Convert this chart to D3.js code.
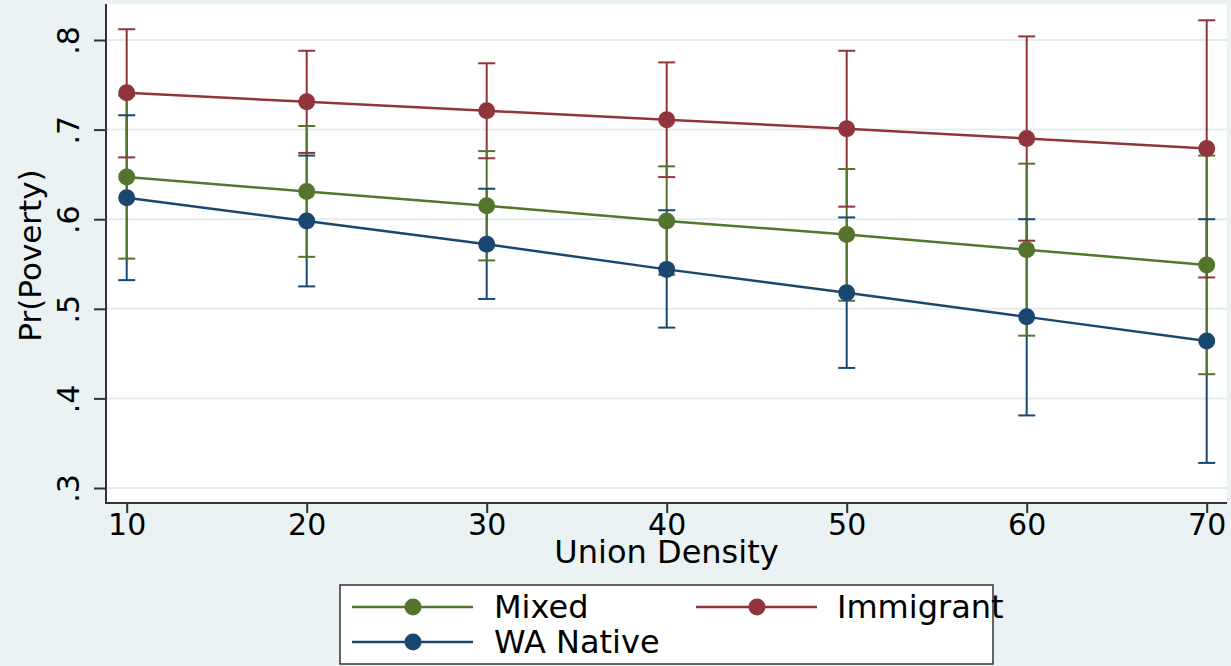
<!DOCTYPE html>
<html>
<head>
<meta charset="utf-8">
<script src="https://cdn.jsdelivr.net/npm/d3@7"></script>
<style>
  html, body { margin: 0; padding: 0; background: #EAF2F3; }
  svg { display: block; }
  text { font-family: "DejaVu Sans", sans-serif; fill: #000; }
</style>
</head>
<body>
<svg id="chart" width="1231" height="666"></svg>
<script>
// ---- data ----
const unionDensity = [10, 20, 30, 40, 50, 60, 70];

const mixed     = [0.647, 0.631, 0.615, 0.598, 0.583, 0.566, 0.549];
const mixedLo   = [0.556, 0.558, 0.554, 0.538, 0.509, 0.470, 0.427];
const mixedHi   = [0.738, 0.704, 0.676, 0.659, 0.656, 0.662, 0.671];

const immigrant   = [0.741, 0.731, 0.721, 0.711, 0.701, 0.690, 0.679];
const immigrantLo = [0.669, 0.674, 0.668, 0.647, 0.614, 0.576, 0.535];
const immigrantHi = [0.812, 0.788, 0.774, 0.775, 0.788, 0.804, 0.822];

const native   = [0.624, 0.598, 0.572, 0.544, 0.518, 0.491, 0.464];
const nativeLo = [0.532, 0.525, 0.511, 0.479, 0.434, 0.381, 0.328];
const nativeHi = [0.716, 0.671, 0.634, 0.610, 0.602, 0.600, 0.600];

const yTicks = [0.3, 0.4, 0.5, 0.6, 0.7, 0.8];
const yTickLabels = [".3", ".4", ".5", ".6", ".7", ".8"];
const xTicks = [10, 20, 30, 40, 50, 60, 70];

const seriesNames = ["Mixed", "Immigrant", "WA Native"];
const seriesColors = ["#55752F", "#90353B", "#1A476F"];

// ---- build ----
const series = [
  { name: seriesNames[0], color: seriesColors[0], v: mixed, lo: mixedLo, hi: mixedHi },
  { name: seriesNames[1], color: seriesColors[1], v: immigrant, lo: immigrantLo, hi: immigrantHi },
  { name: seriesNames[2], color: seriesColors[2], v: native, lo: nativeLo, hi: nativeHi }
];
const pts = s => unionDensity.map((u, i) => ({ u, v: s.v[i], lo: s.lo[i], hi: s.hi[i] }));

const svg = d3.select("#chart");
const W = 1231, H = 666;
svg.append("rect").attr("width", W).attr("height", H).attr("fill", "#EAF2F3");

const x = d3.scaleLinear().domain([10, 70]).range([126.7, 1206.7]);
const y = d3.scaleLinear().domain([0.3, 0.8]).range([488, 40]);
const plotL = 106, plotR = 1227, plotT = 4, plotB = 503;

// plot region
svg.append("rect").attr("x", plotL).attr("y", plotT)
  .attr("width", plotR - plotL).attr("height", plotB - plotT).attr("fill", "#fff");

// gridlines
svg.append("g").selectAll("line").data(yTicks).join("line")
  .attr("x1", plotL).attr("x2", plotR)
  .attr("y1", d => y(d)).attr("y2", d => y(d))
  .attr("stroke", "#E4EDF0").attr("stroke-width", 2);

// y axis
const yAxis = svg.append("g").attr("transform", `translate(${plotL},0)`)
  .call(d3.axisLeft(y).tickValues(yTicks).tickSize(12)
    .tickFormat((d, i) => yTickLabels[i]));
yAxis.select(".domain").remove();
yAxis.selectAll(".tick line").attr("stroke", "#333").attr("stroke-width", 2);
yAxis.selectAll(".tick text")
  .attr("x", 0).attr("dy", 0).attr("y", 0)
  .attr("transform", "translate(-27,0) rotate(-90)")
  .attr("text-anchor", "middle")
  .style("font-size", "30px").style("font-family", "DejaVu Sans");

// x axis
const xAxis = svg.append("g").attr("transform", `translate(0,${plotB})`)
  .call(d3.axisBottom(x).tickValues(xTicks).tickSize(10).tickFormat(d3.format("d")));
xAxis.select(".domain").remove();
xAxis.selectAll(".tick line").attr("stroke", "#333").attr("stroke-width", 2);
xAxis.selectAll(".tick text")
  .attr("y", 32).attr("dy", 0)
  .style("font-size", "30px").style("font-family", "DejaVu Sans");

// axis lines
svg.append("line").attr("x1", plotL).attr("x2", plotL).attr("y1", plotT).attr("y2", plotB + 1)
  .attr("stroke", "#333").attr("stroke-width", 2);
svg.append("line").attr("x1", plotL - 1).attr("x2", plotR).attr("y1", plotB).attr("y2", plotB)
  .attr("stroke", "#333").attr("stroke-width", 2);

// axis titles
svg.append("text").attr("transform", `translate(41,${(plotT + plotB) / 2 + 2}) rotate(-90)`)
  .attr("text-anchor", "middle").style("font-size", "31px").text("Pr(Poverty)");
svg.append("text").attr("x", (plotL + plotR) / 2).attr("y", 563)
  .attr("text-anchor", "middle").style("font-size", "32px").text("Union Density");

// CI spikes: native, immigrant, then mixed on top
const spikeOrder = [series[2], series[1], series[0]];
const gSpikes = svg.append("g");
spikeOrder.forEach(s => {
  gSpikes.append("g").selectAll("line").data(pts(s)).join("line")
    .attr("x1", d => x(d.u)).attr("x2", d => x(d.u))
    .attr("y1", d => y(d.lo)).attr("y2", d => y(d.hi))
    .attr("stroke", s.color).attr("stroke-width", 2);
});
const capW = 8.5;
spikeOrder.forEach(s => {
  const g = gSpikes.append("g");
  ["lo", "hi"].forEach(k => {
    g.append("g").selectAll("line").data(pts(s)).join("line")
      .attr("x1", d => x(d.u) - capW).attr("x2", d => x(d.u) + capW)
      .attr("y1", d => y(d[k])).attr("y2", d => y(d[k]))
      .attr("stroke", s.color).attr("stroke-width", 2);
  });
});

// lines and markers
const line = d3.line().x(d => x(d.u)).y(d => y(d.v));
series.forEach(s => {
  svg.append("path").datum(pts(s)).attr("d", line)
    .attr("fill", "none").attr("stroke", s.color).attr("stroke-width", 2.5);
});
series.forEach(s => {
  svg.append("g").selectAll("circle").data(pts(s)).join("circle")
    .attr("cx", d => x(d.u)).attr("cy", d => y(d.v)).attr("r", 8.5)
    .attr("fill", s.color);
});

// legend
const lg = svg.append("g");
lg.append("rect").attr("x", 340).attr("y", 585).attr("width", 653).attr("height", 79)
  .attr("fill", "#fff").attr("stroke", "#333").attr("stroke-width", 1.5);
const legendPos = [
  { lx: 352, ly: 607, tx: 494, ty: 618 },
  { lx: 696, ly: 607, tx: 837, ty: 618 },
  { lx: 352, ly: 642, tx: 494, ty: 653 }
];
series.forEach((s, i) => {
  const p = legendPos[i];
  lg.append("line").attr("x1", p.lx).attr("x2", p.lx + 121).attr("y1", p.ly).attr("y2", p.ly)
    .attr("stroke", s.color).attr("stroke-width", 2.5);
  lg.append("circle").attr("cx", p.lx + 61).attr("cy", p.ly).attr("r", 8.5).attr("fill", s.color);
  lg.append("text").attr("x", p.tx).attr("y", p.ty).style("font-size", "32px").text(s.name);
});
</script>
</body>
</html>
